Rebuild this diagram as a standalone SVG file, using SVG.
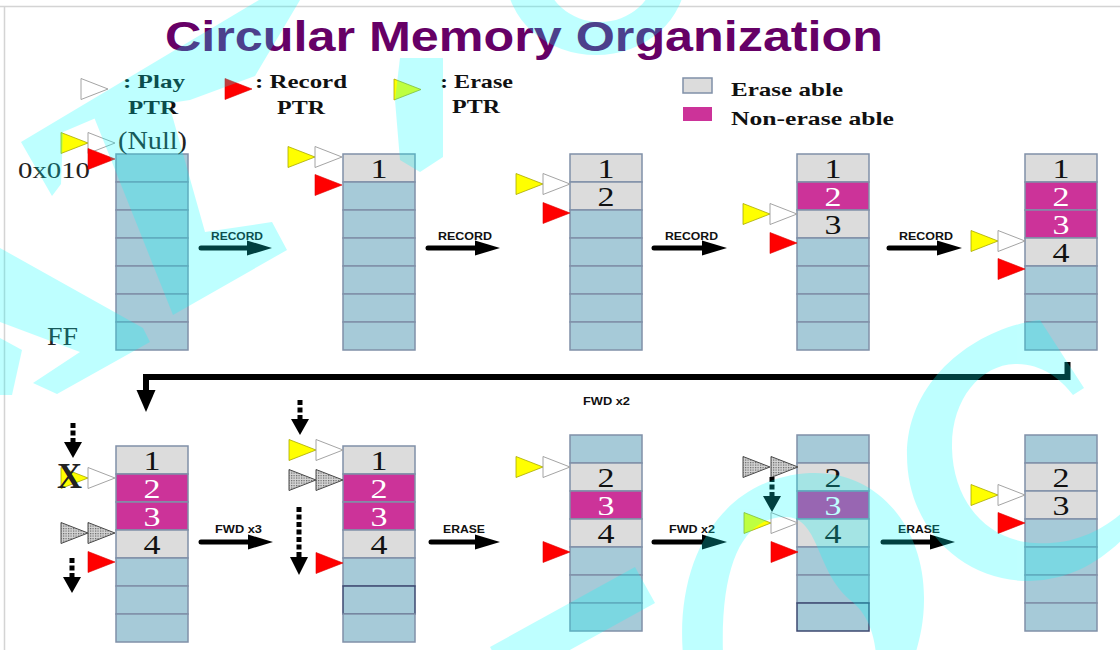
<svg xmlns="http://www.w3.org/2000/svg" width="1120" height="650" viewBox="0 0 1120 650">
<style>
.cb{fill:#a6cad8;stroke:#8090a8;stroke-width:1.5}
.cg{fill:#dcdcdc;stroke:#8090a8;stroke-width:1.5}
.cm{fill:#cc3399;stroke:#8090a8;stroke-width:1.5}
.dk{stroke:#3c4870}
.num{font-family:"Liberation Serif","Times New Roman",serif;font-size:27px;text-anchor:middle;fill:#111}
.numw{fill:#fff}
.lbl{font-family:"Liberation Sans",Arial,sans-serif;font-weight:bold;font-size:10.5px;fill:#111}
.leg{font-family:"Liberation Serif","Times New Roman",serif;font-weight:bold;font-size:19px;fill:#111}
.ser{font-family:"Liberation Serif","Times New Roman",serif;fill:#222}
.ty{fill:#ffff00;stroke:#a8a800;stroke-width:0.8}
.tw{fill:#ffffff;stroke:#9a9a9a;stroke-width:0.9}
.tr{fill:#ff0000;stroke:#dd0000;stroke-width:0.6}
.th{fill:url(#hatch);stroke:#4a4a4a;stroke-width:1}
.ar{stroke:#000;stroke-width:5;stroke-linecap:round;fill:none}
.ah{fill:#000}
.da{stroke:#000;stroke-width:5;stroke-dasharray:5 2.5;fill:none}
</style>
<defs>
<path id="tri" d="M-27,-10.5 L0,0 L-27,10.5 Z"/>
<pattern id="hatch" width="2.5" height="2.5" patternUnits="userSpaceOnUse">
<rect width="2.5" height="2.5" fill="#d4d4d4"/>
<rect width="1.2" height="1.2" fill="#666"/>
</pattern>
</defs>
<rect width="1120" height="650" fill="#fff"/>
<line x1="0" y1="6.5" x2="1120" y2="6.5" stroke="#d4d4d4" stroke-width="1.5"/>
<line x1="4.5" y1="6" x2="4.5" y2="650" stroke="#d4d4d4" stroke-width="1.5"/>

<text x="165" y="51" font-family="'Liberation Sans',Arial,sans-serif" font-weight="bold" font-size="42" fill="#660066" textLength="718" lengthAdjust="spacingAndGlyphs">Circular Memory Organization</text>

<g id="legend">
<use href="#tri" x="108" y="89" class="tw"/>
<text class="leg" x="123" y="88" textLength="62" lengthAdjust="spacingAndGlyphs">: Play</text>
<text class="leg" x="128" y="114" textLength="50" lengthAdjust="spacingAndGlyphs">PTR</text>
<use href="#tri" x="252" y="89" class="tr"/>
<text class="leg" x="255" y="88" textLength="92" lengthAdjust="spacingAndGlyphs">: Record</text>
<text class="leg" x="277" y="114" textLength="48" lengthAdjust="spacingAndGlyphs">PTR</text>
<use href="#tri" x="421" y="89.5" class="ty"/>
<text class="leg" x="440" y="88" textLength="73" lengthAdjust="spacingAndGlyphs">: Erase</text>
<text class="leg" x="452" y="113" textLength="48" lengthAdjust="spacingAndGlyphs">PTR</text>
<rect x="683" y="78" width="29" height="15" class="cg" stroke-width="1"/>
<rect x="683" y="107" width="29" height="14" fill="#cc3399"/>
<text class="leg" x="731" y="96" textLength="112" lengthAdjust="spacingAndGlyphs">Erase able</text>
<text class="leg" x="731" y="125" textLength="163" lengthAdjust="spacingAndGlyphs">Non-erase able</text>
</g>

<g id="col1">
<rect class="cb" x="116" y="154" width="72" height="28"/>
<rect class="cb" x="116" y="182" width="72" height="28"/>
<rect class="cb" x="116" y="210" width="72" height="28"/>
<rect class="cb" x="116" y="238" width="72" height="28"/>
<rect class="cb" x="116" y="266" width="72" height="28"/>
<rect class="cb" x="116" y="294" width="72" height="28"/>
<rect class="cb" x="116" y="322" width="72" height="28"/>
<text class="ser" x="118" y="149" font-size="25" textLength="69" lengthAdjust="spacingAndGlyphs">(Null)</text>
<text class="ser" x="18" y="178" font-size="24" textLength="72" lengthAdjust="spacingAndGlyphs">0x010</text>
<text class="ser" x="47" y="345" font-size="25" textLength="31" lengthAdjust="spacingAndGlyphs">FF</text>
<use href="#tri" x="88" y="143" class="ty"/>
<use href="#tri" x="115" y="143" class="tw"/>
<use href="#tri" x="115" y="159" class="tr"/>
</g>

<g id="col2">
<rect class="cg" x="343" y="154" width="72" height="28"/>
<rect class="cb" x="343" y="182" width="72" height="28"/>
<rect class="cb" x="343" y="210" width="72" height="28"/>
<rect class="cb" x="343" y="238" width="72" height="28"/>
<rect class="cb" x="343" y="266" width="72" height="28"/>
<rect class="cb" x="343" y="294" width="72" height="28"/>
<rect class="cb" x="343" y="322" width="72" height="28"/>
<text class="num" x="379" y="178" textLength="17" lengthAdjust="spacingAndGlyphs">1</text>
<use href="#tri" x="315" y="157" class="ty"/>
<use href="#tri" x="342" y="157" class="tw"/>
<use href="#tri" x="342" y="185" class="tr"/>
</g>

<g id="col3">
<rect class="cg" x="570" y="154" width="72" height="28"/>
<rect class="cg" x="570" y="182" width="72" height="28"/>
<rect class="cb" x="570" y="210" width="72" height="28"/>
<rect class="cb" x="570" y="238" width="72" height="28"/>
<rect class="cb" x="570" y="266" width="72" height="28"/>
<rect class="cb" x="570" y="294" width="72" height="28"/>
<rect class="cb" x="570" y="322" width="72" height="28"/>
<text class="num" x="606" y="178" textLength="17" lengthAdjust="spacingAndGlyphs">1</text>
<text class="num" x="606" y="206" textLength="17" lengthAdjust="spacingAndGlyphs">2</text>
<use href="#tri" x="543" y="184" class="ty"/>
<use href="#tri" x="570" y="184" class="tw"/>
<use href="#tri" x="570" y="213" class="tr"/>
</g>

<g id="col4">
<rect class="cg" x="797" y="154" width="72" height="28"/>
<rect class="cm" x="797" y="182" width="72" height="28"/>
<rect class="cg" x="797" y="210" width="72" height="28"/>
<rect class="cb" x="797" y="238" width="72" height="28"/>
<rect class="cb" x="797" y="266" width="72" height="28"/>
<rect class="cb" x="797" y="294" width="72" height="28"/>
<rect class="cb" x="797" y="322" width="72" height="28"/>
<text class="num" x="833" y="178" textLength="17" lengthAdjust="spacingAndGlyphs">1</text>
<text class="num numw" x="833" y="206" textLength="17" lengthAdjust="spacingAndGlyphs">2</text>
<text class="num" x="833" y="234" textLength="17" lengthAdjust="spacingAndGlyphs">3</text>
<use href="#tri" x="770" y="214" class="ty"/>
<use href="#tri" x="797" y="214" class="tw"/>
<use href="#tri" x="797" y="243" class="tr"/>
</g>

<g id="col5">
<rect class="cg" x="1025" y="154" width="72" height="28"/>
<rect class="cm" x="1025" y="182" width="72" height="28"/>
<rect class="cm" x="1025" y="210" width="72" height="28"/>
<rect class="cg" x="1025" y="238" width="72" height="28"/>
<rect class="cb" x="1025" y="266" width="72" height="28"/>
<rect class="cb" x="1025" y="294" width="72" height="28"/>
<rect class="cb" x="1025" y="322" width="72" height="28"/>
<text class="num" x="1061" y="178" textLength="17" lengthAdjust="spacingAndGlyphs">1</text>
<text class="num numw" x="1061" y="206" textLength="17" lengthAdjust="spacingAndGlyphs">2</text>
<text class="num numw" x="1061" y="234" textLength="17" lengthAdjust="spacingAndGlyphs">3</text>
<text class="num" x="1061" y="262" textLength="17" lengthAdjust="spacingAndGlyphs">4</text>
<use href="#tri" x="998" y="241" class="ty"/>
<use href="#tri" x="1025" y="241" class="tw"/>
<use href="#tri" x="1025" y="269" class="tr"/>
</g>

<g id="col6">
<rect class="cg" x="116" y="446" width="72" height="28"/>
<rect class="cm" x="116" y="474" width="72" height="28"/>
<rect class="cm" x="116" y="502" width="72" height="28"/>
<rect class="cg" x="116" y="530" width="72" height="28"/>
<rect class="cb" x="116" y="558" width="72" height="28"/>
<rect class="cb" x="116" y="586" width="72" height="28"/>
<rect class="cb" x="116" y="614" width="72" height="28"/>
<text class="num" x="152" y="470" textLength="17" lengthAdjust="spacingAndGlyphs">1</text>
<text class="num numw" x="152" y="498" textLength="17" lengthAdjust="spacingAndGlyphs">2</text>
<text class="num numw" x="152" y="526" textLength="17" lengthAdjust="spacingAndGlyphs">3</text>
<text class="num" x="152" y="554" textLength="17" lengthAdjust="spacingAndGlyphs">4</text>
<path class="da" d="M73,423 V443"/>
<path class="ah" d="M64,442 H82 L73,458 Z"/>
<use href="#tri" x="88" y="478" class="ty"/>
<use href="#tri" x="115" y="478" class="tw"/>
<text class="ser" x="57" y="488" font-size="35" font-weight="bold" fill="#000" textLength="25" lengthAdjust="spacingAndGlyphs">X</text>
<use href="#tri" x="88" y="533" class="th"/>
<use href="#tri" x="115" y="533" class="th"/>
<path class="da" d="M72,558 V578"/>
<path class="ah" d="M63,577 H81 L72,593 Z"/>
<use href="#tri" x="115" y="562" class="tr"/>
</g>

<g id="col7">
<rect class="cg" x="343" y="446" width="72" height="28"/>
<rect class="cm" x="343" y="474" width="72" height="28"/>
<rect class="cm" x="343" y="502" width="72" height="28"/>
<rect class="cg" x="343" y="530" width="72" height="28"/>
<rect class="cb" x="343" y="558" width="72" height="28"/>
<rect class="cb dk" x="343" y="586" width="72" height="28"/>
<rect class="cb" x="343" y="614" width="72" height="28"/>
<text class="num" x="379" y="470" textLength="17" lengthAdjust="spacingAndGlyphs">1</text>
<text class="num numw" x="379" y="498" textLength="17" lengthAdjust="spacingAndGlyphs">2</text>
<text class="num numw" x="379" y="526" textLength="17" lengthAdjust="spacingAndGlyphs">3</text>
<text class="num" x="379" y="554" textLength="17" lengthAdjust="spacingAndGlyphs">4</text>
<path class="da" d="M300,400 V420"/>
<path class="ah" d="M291,419 H309 L300,435 Z"/>
<use href="#tri" x="316" y="450" class="ty"/>
<use href="#tri" x="343" y="450" class="tw"/>
<use href="#tri" x="316" y="480" class="th"/>
<use href="#tri" x="343" y="480" class="th"/>
<path class="da" d="M299,507 V557"/>
<path class="ah" d="M290,557 H308 L299,575 Z"/>
<use href="#tri" x="343" y="563" class="tr"/>
</g>

<g id="col8">
<rect class="cb" x="570" y="435" width="72" height="28"/>
<rect class="cg" x="570" y="463" width="72" height="28"/>
<rect class="cm" x="570" y="491" width="72" height="28"/>
<rect class="cg" x="570" y="519" width="72" height="28"/>
<rect class="cb" x="570" y="547" width="72" height="28"/>
<rect class="cb" x="570" y="575" width="72" height="28"/>
<rect class="cb" x="570" y="603" width="72" height="28"/>
<text class="num" x="606" y="487" textLength="17" lengthAdjust="spacingAndGlyphs">2</text>
<text class="num numw" x="606" y="515" textLength="17" lengthAdjust="spacingAndGlyphs">3</text>
<text class="num" x="606" y="543" textLength="17" lengthAdjust="spacingAndGlyphs">4</text>
<use href="#tri" x="543" y="467" class="ty"/>
<use href="#tri" x="570" y="467" class="tw"/>
<use href="#tri" x="570" y="552" class="tr"/>
</g>

<g id="col9">
<rect class="cb" x="797" y="435" width="72" height="28"/>
<rect class="cg" x="797" y="463" width="72" height="28"/>
<rect class="cm" x="797" y="491" width="72" height="28"/>
<rect class="cg" x="797" y="519" width="72" height="28"/>
<rect class="cb" x="797" y="547" width="72" height="28"/>
<rect class="cb" x="797" y="575" width="72" height="28"/>
<rect class="cb dk" x="797" y="603" width="72" height="28"/>
<text class="num" x="833" y="487" textLength="17" lengthAdjust="spacingAndGlyphs">2</text>
<text class="num numw" x="833" y="515" textLength="17" lengthAdjust="spacingAndGlyphs">3</text>
<text class="num" x="833" y="543" textLength="17" lengthAdjust="spacingAndGlyphs">4</text>
<use href="#tri" x="770" y="467" class="th"/>
<use href="#tri" x="798" y="467" class="th"/>
<path class="da" d="M772,477 V497"/>
<path class="ah" d="M763,496 H781 L772,512 Z"/>
<use href="#tri" x="771" y="523" class="ty"/>
<use href="#tri" x="798" y="523" class="tw"/>
<use href="#tri" x="798" y="552" class="tr"/>
</g>

<g id="col10">
<rect class="cb" x="1025" y="435" width="72" height="28"/>
<rect class="cg" x="1025" y="463" width="72" height="28"/>
<rect class="cg" x="1025" y="491" width="72" height="28"/>
<rect class="cb" x="1025" y="519" width="72" height="28"/>
<rect class="cb" x="1025" y="547" width="72" height="28"/>
<rect class="cb" x="1025" y="575" width="72" height="28"/>
<rect class="cb" x="1025" y="603" width="72" height="28"/>
<text class="num" x="1061" y="487" textLength="17" lengthAdjust="spacingAndGlyphs">2</text>
<text class="num" x="1061" y="515" textLength="17" lengthAdjust="spacingAndGlyphs">3</text>
<use href="#tri" x="998" y="495" class="ty"/>
<use href="#tri" x="1025" y="495" class="tw"/>
<use href="#tri" x="1025" y="523" class="tr"/>
</g>

<g id="connectors">
<path class="ar" d="M201,248 H252"/><path class="ah" d="M247,240.5 L272,248 L247,255.5 Z"/>
<text class="lbl" x="211" y="240" textLength="52" lengthAdjust="spacingAndGlyphs">RECORD</text>
<path class="ar" d="M428,248 H480"/><path class="ah" d="M475,240.5 L500,248 L475,255.5 Z"/>
<text class="lbl" x="438" y="240" textLength="54" lengthAdjust="spacingAndGlyphs">RECORD</text>
<path class="ar" d="M654,248 H707"/><path class="ah" d="M702,240.5 L727,248 L702,255.5 Z"/>
<text class="lbl" x="665" y="240" textLength="53" lengthAdjust="spacingAndGlyphs">RECORD</text>
<path class="ar" d="M889,248 H942"/><path class="ah" d="M937,240.5 L962,248 L937,255.5 Z"/>
<text class="lbl" x="899" y="240" textLength="54" lengthAdjust="spacingAndGlyphs">RECORD</text>

<path d="M1067.5,362 V377 H146 V392" fill="none" stroke="#000" stroke-width="6"/>
<path class="ah" d="M136.5,390 H155.5 L146,412 Z"/>
<text class="lbl" x="583" y="405" textLength="47" lengthAdjust="spacingAndGlyphs">FWD x2</text>

<path class="ar" d="M201,542 H253"/><path class="ah" d="M248,534.5 L273,542 L248,549.5 Z"/>
<text class="lbl" x="215" y="533" textLength="47" lengthAdjust="spacingAndGlyphs">FWD x3</text>
<path class="ar" d="M431,542 H480"/><path class="ah" d="M475,534.5 L500,542 L475,549.5 Z"/>
<text class="lbl" x="443" y="533" textLength="42" lengthAdjust="spacingAndGlyphs">ERASE</text>
<path class="ar" d="M654,542 H707"/><path class="ah" d="M702,534.5 L727,542 L702,549.5 Z"/>
<text class="lbl" x="669" y="533" textLength="46" lengthAdjust="spacingAndGlyphs">FWD x2</text>
<path class="ar" d="M883,542 H935"/><path class="ah" d="M930,534.5 L955,542 L930,549.5 Z"/>
<text class="lbl" x="898" y="533" textLength="42" lengthAdjust="spacingAndGlyphs">ERASE</text>
</g>

<g id="watermark" opacity="0.25" fill="#00ffff">
<polygon points="21,142 52,196 61,184 63,132 110,112 190,100 255,76 300,0 259,0"/>
<polygon points="92,112 165,90 205,232 272,222 287,250 173,315"/>
<polygon points="400,58 443,58 443,157 420,172 400,160 395,100"/>
<polygon points="0,248 143,328 150,342 57,394 33,383 80,352 0,322"/>
<polygon points="0,338 22,350 12,395 0,395"/>
<path fill-rule="evenodd" d="M506,-25 a90,80 0 1,0 180,0 a90,80 0 1,0 -180,0 Z M545,-28 a55,50 0 1,0 110,0 a55,50 0 1,0 -110,0 Z"/>
<path d="M1040,320 C975,328 907,380 907,455 C907,530 965,582 1030,581 C1070,580 1100,562 1125,537 L1125,510 C1100,533 1070,545 1035,543 C985,540 953,500 952,448 C951,400 980,365 1015,364 C1040,363 1060,378 1073,395 L1084,388 Z"/>
<path fill-rule="evenodd" d="M683,655 C675,560 720,478 810,473 C880,470 925,530 924,600 C924,625 918,645 915,655 Z M723,655 C720,560 745,517 785,517 C820,517 815,570 850,600 C870,615 875,640 876,655 Z"/>
<polygon points="490,647 510,683 655,603 635,567"/>
</g>
</svg>
